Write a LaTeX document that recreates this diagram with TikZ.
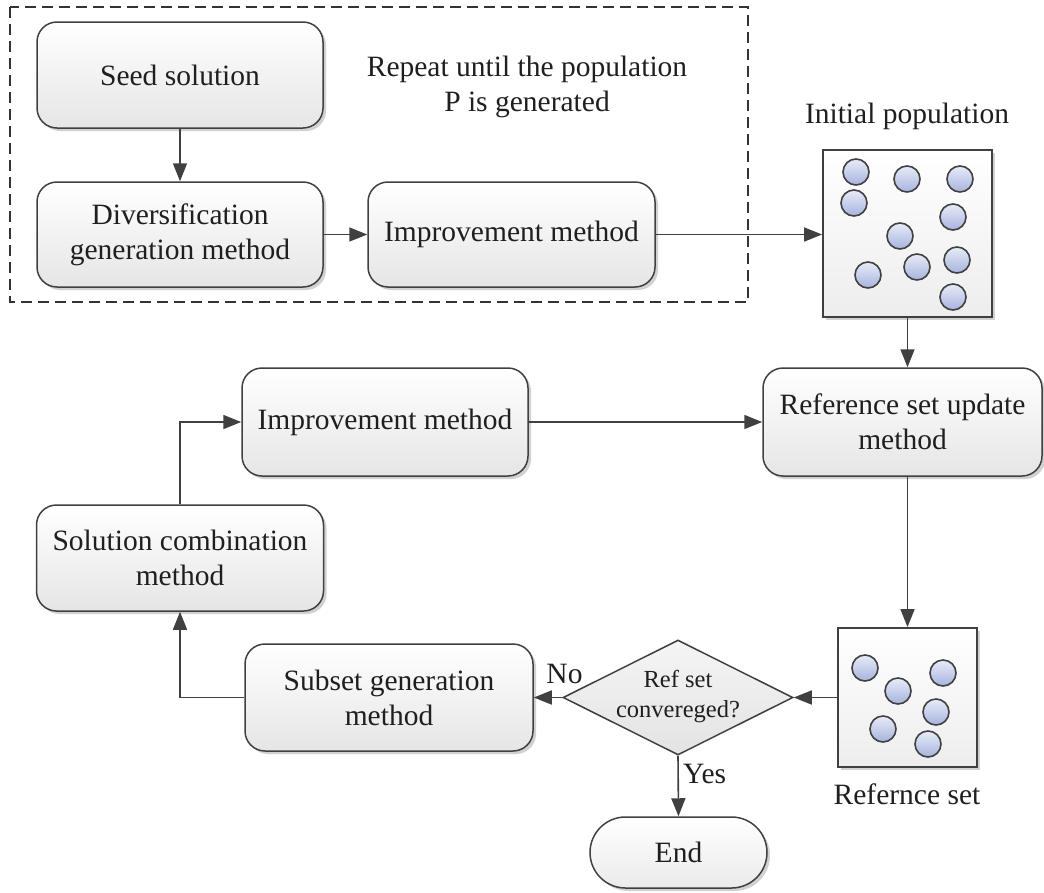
\documentclass[tikz,border=0pt]{standalone}
\usepackage{fontspec}
\setmainfont{Liberation Serif}
\usetikzlibrary{arrows.meta,shapes.geometric,shadows}
\definecolor{linec}{HTML}{404040}
\definecolor{circtop}{HTML}{E8ECF8}
\definecolor{circbot}{HTML}{A6B3DD}
\begin{document}
\begin{tikzpicture}[x=1pt,y=-1pt,
  font=\fontsize{29.5}{35}\selectfont,
  shad/.style={drop shadow={shadow xshift=3pt,shadow yshift=-3pt,fill=black,opacity=0.18}},
  rbox/.style={draw=linec,line width=1.5pt,rounded corners=20pt,top color=white,bottom color=black!10,
    shad,inner sep=0pt,align=center,text=black!88},
  sqbox/.style={draw=linec,line width=1.8pt,top color=white,bottom color=black!7,shad,inner sep=0pt},
  dia/.style={diamond,draw=linec,line width=1.5pt,top color=black!4,bottom color=black!11,inner sep=0pt,
    minimum width=230pt,minimum height=115pt,font=\fontsize{24.5}{30}\selectfont,text=black!88},
  dot/.style={circle,draw=black!75,line width=1.6pt,top color=circtop,bottom color=circbot,minimum size=26pt,inner sep=0pt},
  lbl/.style={inner sep=0pt,text=black!88},
  arr/.style={draw=linec,line width=1.6pt,-{Triangle[length=18pt,width=14pt]}}]
\useasboundingbox (0,0) rectangle (1044,892);

% dashed frame
\draw[black!80,line width=1.4pt,dash pattern=on 11pt off 6pt] (10,7) rectangle (748,302);

\node[rbox,minimum width=286pt,minimum height=106pt] (seed) at (180,75) {Seed solution};
\node[rbox,minimum width=286pt,minimum height=105pt] (div) at (180,234.5) {Diversification\\generation method};
\node[rbox,minimum width=287pt,minimum height=105pt] (imp1) at (511.5,234.5) {Improvement method};
\node[lbl,align=center] (rep) at (527,86.5) {Repeat until the population\\P is generated};

\node[lbl,anchor=base] (poplbl) at (907,123) {Initial population};
\node[sqbox,minimum width=169pt,minimum height=167pt] (pop) at (907.5,233.5) {};
\foreach \x/\y [count=\i] in {856/172,907/179,960/179,854/203,953/217,900/236,957/260,917/267,868/275,953/297}
  \node[dot] (p\i) at (\x,\y) {};

\node[rbox,minimum width=279pt,minimum height=108pt] (refup) at (902.5,422) {Reference set update\\method};
\node[rbox,minimum width=286pt,minimum height=108pt] (imp2) at (385,422) {Improvement method};
\node[rbox,minimum width=287pt,minimum height=106pt] (sol) at (180,558) {Solution combination\\method};
\node[rbox,minimum width=288pt,minimum height=107pt] (sub) at (389,697.5) {Subset generation\\method};
\node[dia] (conv) at (678,697.5) {\smash{\makebox[0pt]{\raisebox{-5pt}{\begin{tabular}{@{}c@{}}Ref set\\convereged?\end{tabular}}}}};

\node[sqbox,minimum width=139pt,minimum height=139pt] (refset) at (907.5,697.5) {};
\foreach \x/\y [count=\i] in {865/668,943/673,898/691,936/712,883/729,928/744}
  \node[dot] (r\i) at (\x,\y) {};
\node[lbl,anchor=base] (rslbl) at (907,804) {Refernce set};

\node[draw=linec,line width=1.5pt,rounded corners=35.5pt,minimum width=177pt,minimum height=71pt,
  top color=white,bottom color=black!8,shad,inner sep=0pt,text=black!88] (end) at (678.5,852.5) {End};

\node[lbl,anchor=base] (no) at (564.5,683) {No};
\node[lbl,anchor=base west] (yes) at (683,783) {Yes};

% connectors
\draw[arr] (seed.south) -- (div.north);
\draw[arr] (div.east) -- (imp1.west);
\draw[arr] (imp1.east) -- (imp1.east -| pop.west);
\draw[arr] (pop.south) -- (pop.south |- refup.north);
\draw[arr] (imp2.east) -- (refup.west);
\draw[arr] (refset.north |- refup.south) -- (refset.north);
\draw[arr] (refset.west) -- (conv.east);
\draw[arr] (conv.west) -- (sub.east);
\draw[arr] (conv.south) -- (end.north);
\draw[arr] (sub.west) -| (sol.south);
\draw[arr] (sol.north) |- (imp2.west);
\end{tikzpicture}
\end{document}
